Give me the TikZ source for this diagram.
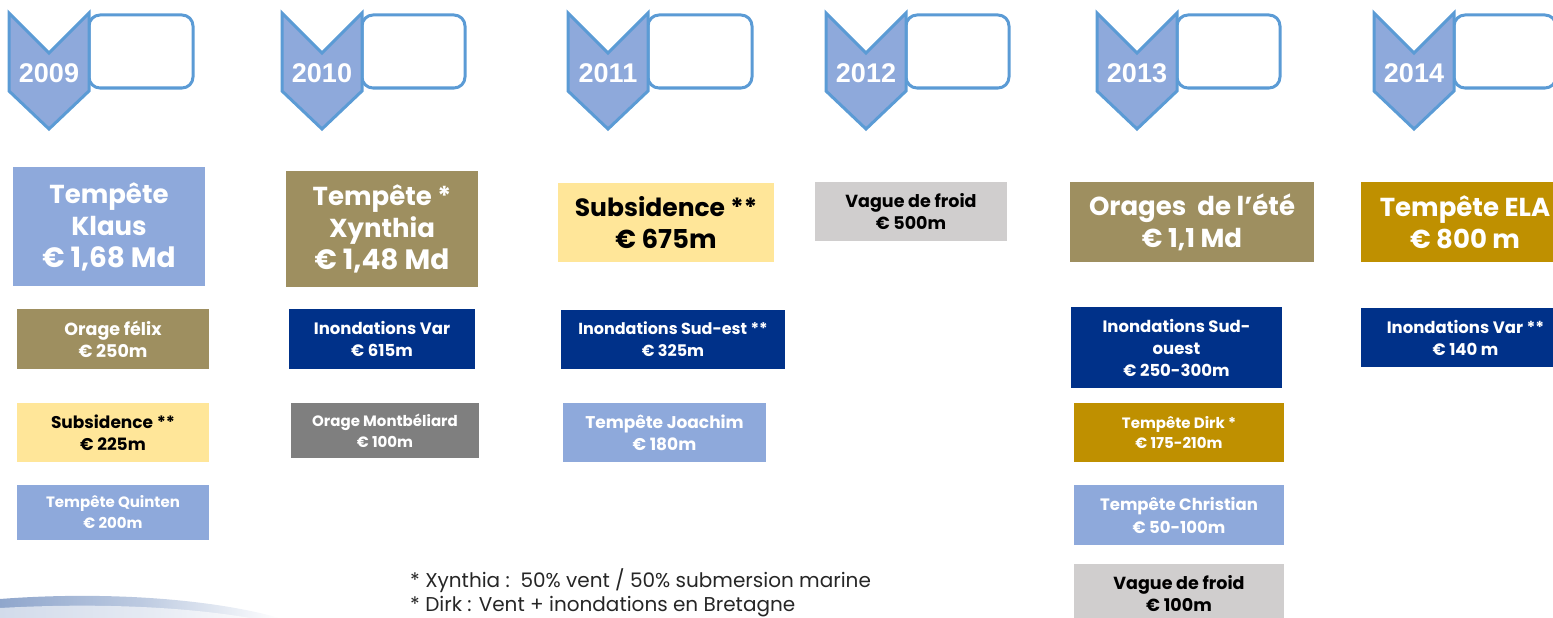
\documentclass[tikz,border=0pt]{standalone}
\usepackage{fontspec}
\setmainfont{Poppins}
\newfontfamily\yearfont{Liberation Sans}
\definecolor{chevfill}{HTML}{8EA9DB}
\definecolor{chevline}{HTML}{5B9BD5}
\definecolor{lblue}{HTML}{8EA9DB}
\definecolor{olive}{HTML}{9E8F60}
\definecolor{dblue}{HTML}{003189}
\definecolor{mgray}{HTML}{7F7F7F}
\definecolor{lgray}{HTML}{D0CECE}
\definecolor{gold}{HTML}{BF9000}
\definecolor{lyellow}{HTML}{FFE699}
\definecolor{notec}{HTML}{262626}
\definecolor{swoosh}{HTML}{8FA6CC}
\tikzset{
  chev/.style={fill=chevfill,draw=chevline,line width=3pt,line join=miter},
  yrrect/.style={draw=chevline,fill=white,line width=3pt,rounded corners=11pt},
  yr/.style={font=\yearfont\bfseries\fontsize{27}{27}\selectfont,text=white,anchor=base,inner sep=0pt},
  evt/.style={inner sep=0pt,outer sep=0pt,align=center,draw=none},
  big/.style={font=\bfseries\fontsize{26}{32}\selectfont},
  small/.style={font=\bfseries\fontsize{16.5}{22}\selectfont},
  note/.style={font=\fontsize{20}{24}\selectfont,text=notec,anchor=base west,inner sep=0pt,align=left}
}
\newcommand{\evbox}[7]{%
  \node[evt,#6,minimum width={#4-#2},minimum height={#5-#3}] (#1) at ({(#2+#4)/2},{(#3+#5)/2}) {#7};}
\newcommand{\yearmark}[4]{%
  \draw[yrrect] (#2+80,15) rectangle (#3,88);
  \draw[chev] (#2,13) -- (#2+40,53) -- (#2+80,13) -- (#2+80,91) -- (#2+40,129) -- (#2,91) -- cycle;
  \node[yr] (#1) at (#2+40,82) {#4};}
\begin{document}
\begin{tikzpicture}[x=1pt,y=-1pt]
\useasboundingbox (0,0) rectangle (1553,618);
\clip (0,0) rectangle (1553,618);
% year markers
\yearmark{y2009}{9}{193}{2009}
\yearmark{y2010}{282}{465}{2010}
\yearmark{y2011}{568}{752}{2011}
\yearmark{y2012}{826}{1009}{2012}
\yearmark{y2013}{1097}{1280}{2013}
\yearmark{y2014}{1374}{1556}{2014}
% 2009
\evbox{klaus}{13}{167}{205}{286}{fill=lblue,text=white,big}{Tempête\\Klaus\\{\fontsize{28}{32}\selectfont € 1,68 Md}}
\evbox{felix}{17}{309}{209}{369}{fill=olive,text=white,small,font=\bfseries\fontsize{17.5}{22}\selectfont}{Orage félix\\€ 250m}
\evbox{sub09}{17}{403}{209}{462}{fill=lyellow,text=black,small,font=\bfseries\fontsize{17}{22}\selectfont}{Subsidence **\\€ 225m}
\evbox{quinten}{17}{485}{209}{540}{fill=lblue,text=white,small,font=\bfseries\fontsize{15}{21}\selectfont}{Tempête Quinten\\€ 200m}
% 2010
\evbox{xynthia}{286}{171}{478}{287}{fill=olive,text=white,big}{Tempête *\\Xynthia\\{\fontsize{28}{32}\selectfont € 1,48 Md}}
\evbox{var10}{289}{309}{475}{369}{fill=dblue,text=white,small}{Inondations Var\\€ 615m}
\evbox{montb}{291}{403}{479}{458}{fill=mgray,text=white,small,font=\bfseries\fontsize{15}{21}\selectfont}{Orage Montbéliard\\€ 100m}
% 2011
\evbox{sub11}{558}{183}{774}{262}{fill=lyellow,text=black,big,font=\bfseries\fontsize{25}{32}\selectfont}{Subsidence **\\{\fontsize{26}{32}\selectfont € 675m}}
\evbox{sudest}{561}{310}{785}{369}{fill=dblue,text=white,small,font=\bfseries\fontsize{16}{22}\selectfont}{Inondations Sud-est **\\€ 325m}
\evbox{joachim}{563}{403}{766}{462}{fill=lblue,text=white,small,font=\bfseries\fontsize{17}{22}\selectfont}{Tempête Joachim\\€ 180m}
% 2012
\evbox{froid12}{815}{182}{1007}{241}{fill=lgray,text=black,small,font=\bfseries\fontsize{17.5}{22}\selectfont}{Vague de froid\\€ 500m}
% 2013
\evbox{orages}{1070}{182}{1314}{262}{fill=olive,text=white,big}{Orages\ \ de l’été\\€ 1,1 Md}
\evbox{sudouest}{1071}{307}{1282}{388}{fill=dblue,text=white,small}{Inondations Sud-\\ouest\\€ 250-300m}
\evbox{dirk}{1074}{403}{1284}{462}{fill=gold,text=white,small,font=\bfseries\fontsize{15}{20}\selectfont}{Tempête Dirk *\\€ 175-210m}
\evbox{christian}{1074}{485}{1284}{545}{fill=lblue,text=white,small,font=\bfseries\fontsize{16.5}{23}\selectfont}{Tempête Christian\\€ 50-100m}
\fill[lgray] (1074,564) rectangle (1284,618);
\node[evt,text=black,font=\bfseries\fontsize{17.5}{22}\selectfont,anchor=base] (froid13) at (1179,611) {Vague de froid\\€ 100m};
% 2014
\evbox{ela}{1361}{182}{1569}{262}{fill=gold,text=white,big}{Tempête ELA\\€ 800 m}
\evbox{var14}{1361}{308}{1570}{367}{fill=dblue,text=white,small}{Inondations Var **\\€ 140 m}
% notes
\node[note] (note1) at (410,587) {* Xynthia :\ \ 50\% vent / 50\% submersion marine};
\node[note] (note2) at (410,611) {* Dirk : Vent + inondations en Bretagne};
% swoosh
\shade[left color=swoosh,right color=white,middle color=swoosh!60]
  (0,599) .. controls (90,592) and (200,596) .. (280,618) -- (0,618) -- cycle;
\fill[white,opacity=0.6] (0,608) .. controls (90,603) and (180,606) .. (250,618) -- (0,618) -- cycle;
\end{tikzpicture}
\end{document}
